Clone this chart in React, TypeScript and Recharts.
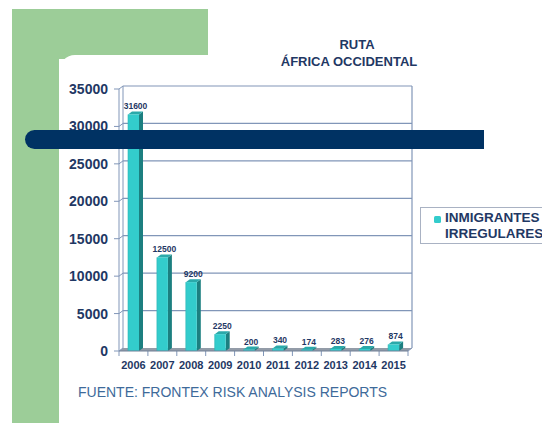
import React from "react";
import { BarChart, Bar, XAxis, YAxis, ReferenceArea, LabelList } from "recharts";

const years = ["2006", "2007", "2008", "2009", "2010", "2011", "2012", "2013", "2014", "2015"];
const migrants = [31600, 12500, 9200, 2250, 200, 340, 174, 283, 276, 874];
const yTicks = [0, 5000, 10000, 15000, 20000, 25000, 30000, 35000];
const titleLines = ["RUTA", "ÁFRICA OCCIDENTAL"];
const legendLines = ["INMIGRANTES", "IRREGULARES"];
const sourceText = "FUENTE: FRONTEX RISK ANALYSIS REPORTS";

const data = years.map((y, i) => ({ year: y, value: migrants[i] }));

const FONT = "'Liberation Sans', Arial, sans-serif";
const NAVY = "#1F3864";
const GRID = "#8196B8";
const DX = 4;
const DY = -3;
const YMAX = yTicks[yTicks.length - 1];

const Bar3D = (props: any) => {
  const { x, y, width, height } = props;
  if (width == null || height == null) return null;
  const h = Math.max(height, 0);
  return (
    <g>
      <polygon
        points={`${x + width},${y} ${x + width + DX},${y + DY} ${x + width + DX},${y + h + DY} ${x + width},${y + h}`}
        fill="#1C7F80"
      />
      <polygon
        points={`${x},${y} ${x + DX},${y + DY} ${x + width + DX},${y + DY} ${x + width},${y}`}
        fill="#2AA9AA"
      />
      <rect x={x} y={y} width={width} height={h} fill="#33CCCC" />
      <line x1={x} y1={y} x2={x} y2={y + h} stroke="#2BB5B5" strokeWidth={0.6} />
    </g>
  );
};

const Walls = (props: any) => {
  const { x, y, width, height } = props;
  const bottom = y + height;
  const ys = yTicks.map((t) => y + height * (1 - t / YMAX));
  const n = years.length;
  const bounds = Array.from({ length: n + 1 }, (_, i) => x + (i * width) / n);
  return (
    <g>
      <polygon
        points={`${x},${bottom} ${x + width},${bottom} ${x + width + DX},${bottom + DY} ${x + DX},${bottom + DY}`}
        fill="#939CA8"
      />
      {ys.map((yy, i) => (
        <g key={i}>
          {i > 0 && (
            <line x1={x + DX} y1={yy + DY} x2={x + width + DX} y2={yy + DY} stroke={GRID} strokeWidth={1.2} />
          )}
          <line x1={x} y1={yy} x2={x + DX} y2={yy + DY} stroke={GRID} strokeWidth={1} />
        </g>
      ))}
      <line x1={x + DX} y1={y + DY} x2={x + DX} y2={bottom + DY} stroke={GRID} strokeWidth={1} />
      <line x1={x + width + DX} y1={y + DY} x2={x + width + DX} y2={bottom + DY} stroke={GRID} strokeWidth={1.2} />
      <line x1={x + width} y1={bottom} x2={x + width + DX} y2={bottom + DY} stroke={GRID} strokeWidth={1} />
      {bounds.map((bx, i) => (
        <line key={"b" + i} x1={bx} y1={bottom} x2={bx} y2={bottom + 5} stroke={GRID} strokeWidth={1} />
      ))}
    </g>
  );
};

const ValueLabel = (props: any) => {
  const { x, y, width, value } = props;
  return (
    <text
      x={x + width / 2 + 2}
      y={y - 5}
      textAnchor="middle"
      fontFamily={FONT}
      fontWeight="bold"
      fontSize={8.5}
      fill={NAVY}
    >
      {value}
    </text>
  );
};

export default function App() {
  return (
    <div
      style={{
        position: "absolute",
        left: 0,
        top: 0,
        width: 542,
        height: 423,
        overflow: "hidden",
        background: "#FFFFFF",
        fontFamily: FONT,
      }}
    >
      <div style={{ position: "absolute", left: 12, top: 9, width: 196, height: 50, background: "#9CCD98" }} />
      <div style={{ position: "absolute", left: 12, top: 9, width: 47, height: 414, background: "#9CCD98" }} />
      <div
        style={{
          position: "absolute",
          left: 59,
          top: 55,
          width: 200,
          height: 380,
          background: "#FFFFFF",
          borderTopLeftRadius: 16,
        }}
      />

      <div
        style={{
          position: "absolute",
          left: 257,
          top: 37,
          width: 200,
          textAlign: "center",
          fontWeight: "bold",
          fontSize: 13,
          color: NAVY,
          lineHeight: "16px",
        }}
      >
        {titleLines[0]}
      </div>
      <div
        style={{
          position: "absolute",
          left: 249,
          top: 54,
          width: 200,
          textAlign: "center",
          fontWeight: "bold",
          fontSize: 13,
          color: NAVY,
          lineHeight: "16px",
        }}
      >
        {titleLines[1]}
      </div>

      <div style={{ position: "absolute", left: 0, top: 0 }}>
        <BarChart
          width={542}
          height={423}
          data={data}
          margin={{ top: 89, right: 134, bottom: 42, left: 59 }}
          barCategoryGap={0}
        >
          <ReferenceArea y1={0} y2={YMAX} shape={(p: any) => <Walls {...p} />} fill="none" />
          <XAxis
            dataKey="year"
            tickLine={false}
            axisLine={{ stroke: "#6F7F96", strokeWidth: 1 }}
            tick={{ fontFamily: FONT, fontWeight: "bold", fontSize: 11, fill: NAVY }}
            tickMargin={4}
            interval={0}
            height={30}
          />
          <YAxis
            domain={[0, YMAX]}
            ticks={yTicks}
            width={60}
            tickSize={5}
            tickMargin={6}
            axisLine={{ stroke: GRID, strokeWidth: 1 }}
            tickLine={{ stroke: GRID }}
            tick={{ fontFamily: FONT, fontWeight: "bold", fontSize: 14, fill: NAVY }}
          />
          <Bar dataKey="value" barSize={11} shape={(p: any) => <Bar3D {...p} />} isAnimationActive={false}>
            <LabelList dataKey="value" content={(p: any) => <ValueLabel {...p} />} />
          </Bar>
        </BarChart>
      </div>

      <div
        style={{
          position: "absolute",
          left: 25,
          top: 130,
          width: 459,
          height: 19,
          background: "#003263",
          borderTopLeftRadius: 10,
          borderBottomLeftRadius: 10,
        }}
      />

      <div
        style={{
          position: "absolute",
          left: 420,
          top: 207,
          width: 140,
          height: 37,
          border: "1px solid #A9B2C3",
          boxSizing: "border-box",
        }}
      />
      <div
        style={{
          position: "absolute",
          left: 434,
          top: 216,
          width: 7,
          height: 7,
          background: "#33CCCC",
          borderRadius: 1.5,
        }}
      />
      <div
        style={{
          position: "absolute",
          left: 445,
          top: 210,
          fontWeight: "bold",
          fontSize: 13.5,
          lineHeight: "16px",
          color: NAVY,
          whiteSpace: "nowrap",
        }}
      >
        {legendLines[0]}
        <br />
        {legendLines[1]}
      </div>

      <div
        style={{
          position: "absolute",
          left: 78,
          top: 383,
          fontSize: 14,
          lineHeight: "18px",
          color: "#3E6A9A",
          whiteSpace: "nowrap",
        }}
      >
        {sourceText}
      </div>
    </div>
  );
}
